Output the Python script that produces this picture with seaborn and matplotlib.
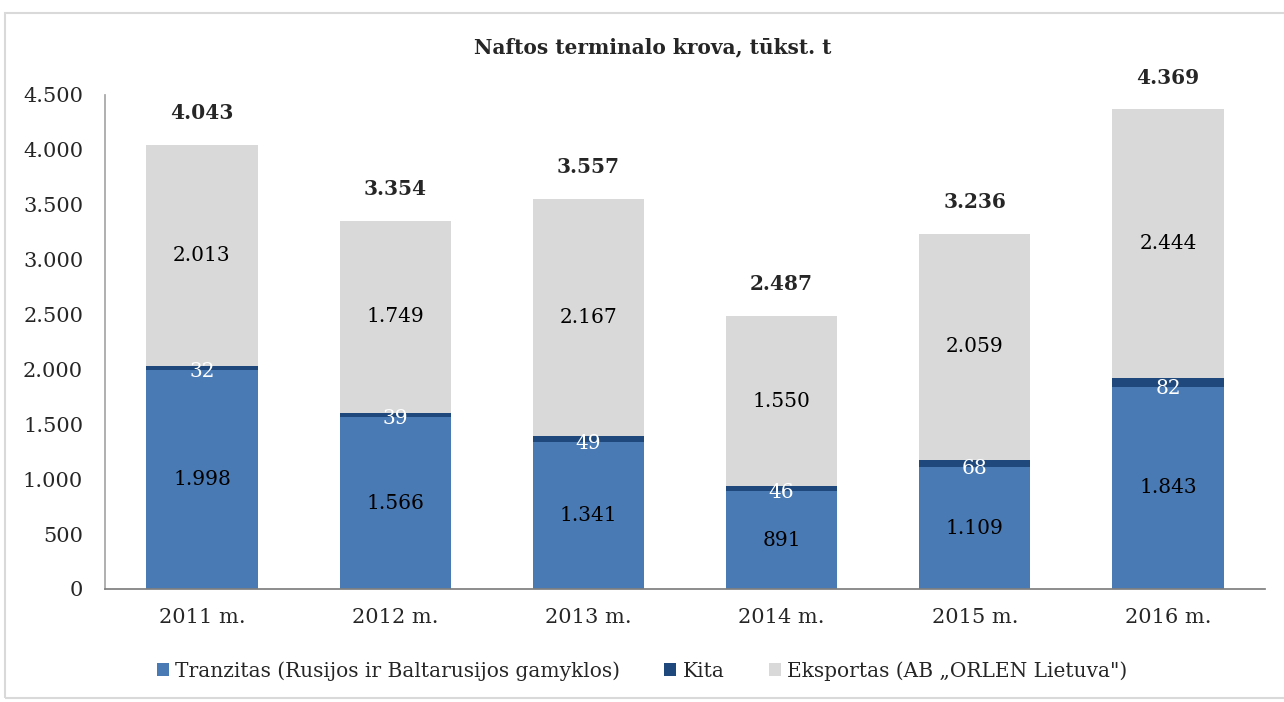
import matplotlib.pyplot as plt
import numpy as np
import pandas as pd
import seaborn as sns
from matplotlib.patches import Rectangle

years = ['2011 m.', '2012 m.', '2013 m.', '2014 m.', '2015 m.', '2016 m.']
tranzitas = [1998, 1566, 1341, 891, 1109, 1843]
kita = [32, 39, 49, 46, 68, 82]
eksportas = [2013, 1749, 2167, 1550, 2059, 2444]
totals = [4043, 3354, 3557, 2487, 3236, 4369]

series_names = ['Tranzitas (Rusijos ir Baltarusijos gamyklos)', 'Kita',
                'Eksportas (AB „ORLEN Lietuva")']
colors = ['#4A7AB4', '#1F497D', '#D9D9D9']
label_colors = ['black', 'white', 'black']


def fmt(v):
    return f'{v:,.0f}'.replace(',', '.')


sns.set_theme(style='white')
plt.rcParams['font.family'] = ['DejaVu Serif']

df = pd.DataFrame({'year': years, 'tranzitas': tranzitas,
                   'kita': kita, 'eksportas': eksportas})

fig = plt.figure(figsize=(12.84, 7.02), dpi=100)
ax = fig.add_axes([105.4 / 1284, 1 - 589 / 702, (1264.6 - 105.4) / 1284, 494 / 702])

bottom = np.zeros(len(years))
for col, name, c, lc in zip(['tranzitas', 'kita', 'eksportas'], series_names,
                            colors, label_colors):
    sns.barplot(data=df, x='year', y=col, color=c, bottom=bottom, ax=ax,
                width=0.575, label=name, saturation=1, linewidth=0)
    for i, v in enumerate(df[col]):
        y = bottom[i] + v / 2
        if col == 'kita':
            y = bottom[i] - 15
        ax.text(i, y, fmt(v), ha='center', va='center', color=lc, fontsize=14.5)
    bottom = bottom + df[col].values

for i, t in enumerate(totals):
    ax.text(i, t + 290, fmt(t), ha='center', va='center', fontsize=14.5,
            fontweight='bold')

ax.set_ylim(0, 4500)
ax.set_xlim(-0.5, 5.5)
ax.set_yticks(np.arange(0, 4501, 500))
ax.set_yticklabels([fmt(v) for v in np.arange(0, 4501, 500)])
ax.tick_params(axis='both', labelsize=15, length=0)
ax.tick_params(axis='y', pad=16)
ax.tick_params(axis='x', pad=14)
ax.set_xlabel('')
ax.set_ylabel('')
for s in ['top', 'right']:
    ax.spines[s].set_visible(False)
ax.spines['left'].set_color('#A6A6A6')
ax.spines['bottom'].set_color('#7F7F7F')

fig.text(653 / 1284, 1 - 47 / 702, 'Naftos terminalo krova, tūkst. t',
         ha='center', va='center', fontsize=14.5, fontweight='bold')

handles, labels = ax.get_legend_handles_labels()
ax.legend(handles, labels, loc='center', bbox_to_anchor=(0.5, 1 - 671 / 702),
          bbox_transform=fig.transFigure, ncol=3, frameon=False, fontsize=14.5,
          handlelength=0.6, handleheight=0.6, handletextpad=0.3,
          columnspacing=2.2)

fig.patches.append(Rectangle((5 / 1284, 0.005), 1.2, 1 - 17 / 702,
                             transform=fig.transFigure, fill=False,
                             edgecolor='#D9D9D9', lw=1.5))

fig.savefig('out.png', dpi=100)
